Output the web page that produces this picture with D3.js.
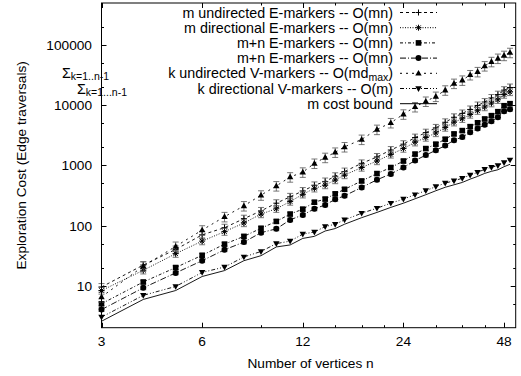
<!DOCTYPE html>
<html>
<head>
<meta charset="utf-8">
<script src="https://cdn.jsdelivr.net/npm/d3@7/dist/d3.min.js"></script>
<style>
  body { margin: 0; background: #fff; }
  text { font-family: "Liberation Sans", Arial, Helvetica, sans-serif; fill: #000; }
</style>
</head>
<body>
<svg id="chart" width="521" height="376"></svg>
<script>
// Number of vertices of the explored graphs
const nVertices = [3, 4, 5, 6, 7, 8, 9, 10, 11, 12, 13, 14, 15, 16,
  18, 20, 22, 24, 26, 28, 30, 32, 34, 36, 38, 40, 42, 44, 46, 48, 50];

// Mean exploration cost (edge traversals) for each strategy
const undirectedE = [9.5, 22, 40, 70, 92, 130, 175, 235, 300, 375, 465, 540, 660, 790,
  1080, 1380, 1800, 2250, 2900, 3500, 4200, 5200, 6300, 7300, 8500, 9900, 11300, 13200, 15000, 17800, 19700];
const directionalE = [8.3, 18, 34, 55, 79, 110, 155, 190, 250, 330, 415, 470, 570, 690,
  920, 1180, 1520, 1900, 2420, 2900, 3450, 4250, 5200, 5950, 7000, 8100, 9300, 10800, 12300, 15000, 16600];
const mnE1 = [5, 11.5, 20, 32, 49, 66, 90, 117, 155, 187, 244, 275, 336, 400,
  550, 730, 920, 1180, 1540, 1900, 2250, 2720, 3330, 3780, 4400, 5100, 5900, 6700, 7800, 9800, 10600];
const mnE2 = [4, 9.2, 16.3, 26, 39.5, 53, 76, 88, 124, 150, 189, 220, 272, 312,
  430, 575, 720, 925, 1200, 1480, 1780, 2130, 2620, 2950, 3550, 4100, 4750, 5400, 6300, 7900, 8600];
const undirectedV = [6.5, 21, 45, 84, 140, 212, 320, 455, 640, 770, 1080, 1350, 1650, 2030,
  2700, 3950, 5100, 7100, 9400, 11600, 14000, 17800, 23000, 26000, 32000, 36000, 45000, 53000, 60000, 67000, 75000];
const directionalV = [3.0, 6.9, 9.7, 16.6, 20.4, 30, 37, 50, 55, 72, 78, 96, 105, 124,
  160, 194, 235, 275, 325, 380, 443, 506, 555, 610, 690, 765, 860, 930, 990, 1110, 1230];
const edgeCount = [2.56, 5.9, 8.3, 14.2, 17.8, 26, 31.5, 44, 47.5, 61, 66, 81, 89, 105,
  135, 165, 200, 235, 278, 325, 378, 432, 475, 520, 590, 655, 735, 795, 845, 950, 1040];

// Relative half-width of the error bars of each strategy
const errUndirectedE = 0.14, errDirectionalE = 0.13, errMnE1 = 0.07, errMnE2 = 0.07, errUndirectedV = 0.18;

// Axis ticks
const xTickValues = [3, 6, 12, 24, 48];
const xMinorTicks = [9, 15, 18, 21, 30, 36, 42];
const yTickValues = [10, 100, 1000, 10000, 100000];

const plot = { left: 101.5, right: 515.7, top: 3, bottom: 327.7 };

const svg = d3.select("#chart");
const x = d3.scaleLog().base(2).domain([3, 52]).range([plot.left, plot.right]);
const y = d3.scaleLog().domain([2, 500000]).range([plot.bottom, plot.top]);

// Legend titles: an optional summation prefix (Σ with subscript) followed by the right-aligned text
const series = [
  { values: undirectedE, err: errUndirectedE, dash: "3,3", marker: "plus",
    label: [{ t: "m undirected E-markers -- O(mn)" }] },
  { values: directionalE, err: errDirectionalE, dash: "1,1.5", marker: "star",
    label: [{ t: "m directional E-markers -- O(mn)" }] },
  { values: mnE1, err: errMnE1, dash: "3,2,1,2", marker: "square",
    label: [{ t: "m+n E-markers -- O(mn)" }] },
  { values: mnE2, err: errMnE2, dash: "6,2,1,2", marker: "circle",
    label: [{ t: "m+n E-markers -- O(mn)" }] },
  { values: undirectedV, err: errUndirectedV, dash: "2,4", marker: "triangle",
    prefix: { sub: "k=1..n-1", x: 62 },
    label: [{ t: "k undirected V-markers -- O(md" }, { t: "max", sub: true }, { t: ")" }] },
  { values: directionalV, err: 0, dash: "4,2,1,2,1,2", marker: "itriangle",
    prefix: { sub: "k=1...n-1", x: 77 },
    label: [{ t: "k directional V-markers -- O(m)" }] },
  { values: edgeCount, err: 0, dash: null, marker: null,
    label: [{ t: "m cost bound" }] }
];

// Axis frame ticks, inward on all four sides
const tickG = svg.append("g").attr("stroke", "#000").attr("stroke-width", 1);
const majorLen = 5, minorLen = 2.5;
function xTick(v, len) {
  const px = Math.round(x(v)) + 0.5;
  tickG.append("line").attr("x1", px).attr("x2", px).attr("y1", plot.bottom).attr("y2", plot.bottom - len);
  tickG.append("line").attr("x1", px).attr("x2", px).attr("y1", plot.top).attr("y2", plot.top + len);
}
function yTick(v, len) {
  const py = Math.round(y(v)) + 0.5;
  tickG.append("line").attr("x1", plot.left).attr("x2", plot.left + len).attr("y1", py).attr("y2", py);
  tickG.append("line").attr("x1", plot.right).attr("x2", plot.right - len).attr("y1", py).attr("y2", py);
}
xTickValues.forEach(v => xTick(v, majorLen));
xMinorTicks.forEach(v => xTick(v, minorLen));
yTickValues.forEach(v => yTick(v, majorLen));
const yMinor = [];
for (let d = 1; d <= 100000; d *= 10) [2, 5].forEach(m => { const v = m * d; if (v > 2 && v < 500000) yMinor.push(v); });
yMinor.forEach(v => yTick(v, minorLen));

// Tick labels
svg.append("g").selectAll("text").data(xTickValues).join("text")
  .attr("x", d => x(d)).attr("y", 346).attr("text-anchor", "middle")
  .attr("font-size", "13.7px").text(d => d);
svg.append("g").selectAll("text").data(yTickValues).join("text")
  .attr("x", 92).attr("y", d => y(d) + 5).attr("text-anchor", "end")
  .attr("font-size", "13.7px").text(d => d);

// Axis titles
svg.append("text").attr("x", (plot.left + plot.right) / 2 + 2).attr("y", 368)
  .attr("text-anchor", "middle").attr("font-size", "13.7px").text("Number of vertices n");
svg.append("text").attr("transform", `translate(26,${(plot.top + plot.bottom) / 2}) rotate(-90)`)
  .attr("text-anchor", "middle").attr("font-size", "13.7px").text("Exploration Cost (Edge traversals)");

// Point markers
function drawMarker(g, type, cx, cy) {
  const s = 3;
  if (type === "plus") {
    g.append("path").attr("d", `M${cx - s},${cy}H${cx + s}M${cx},${cy - s}V${cy + s}`)
      .attr("stroke", "#000").attr("stroke-width", 1).attr("fill", "none");
  } else if (type === "star") {
    const k = s * 0.75;
    g.append("path").attr("d", `M${cx - s},${cy}H${cx + s}M${cx},${cy - s}V${cy + s}M${cx - k},${cy - k}L${cx + k},${cy + k}M${cx - k},${cy + k}L${cx + k},${cy - k}`)
      .attr("stroke", "#000").attr("stroke-width", 1).attr("fill", "none");
  } else if (type === "square") {
    g.append("rect").attr("x", cx - 2.8).attr("y", cy - 2.8).attr("width", 5.6).attr("height", 5.6).attr("fill", "#000");
  } else if (type === "circle") {
    g.append("circle").attr("cx", cx).attr("cy", cy).attr("r", 3).attr("fill", "#000");
  } else if (type === "triangle") {
    g.append("path").attr("d", `M${cx},${cy - 3.4}L${cx + 3.2},${cy + 2.3}L${cx - 3.2},${cy + 2.3}Z`).attr("fill", "#000");
  } else if (type === "itriangle") {
    g.append("path").attr("d", `M${cx},${cy + 3.4}L${cx + 3.2},${cy - 2.3}L${cx - 3.2},${cy - 2.3}Z`).attr("fill", "#000");
  }
}

// Series: error bars, dashed lines, markers
const line = d3.line().x(d => x(d[0])).y(d => y(d[1]));
series.forEach(s => {
  const g = svg.append("g");
  const pts = nVertices.map((n, i) => [n, s.values[i]]);
  if (s.err > 0) {
    const eg = g.append("g").attr("stroke", "#555").attr("stroke-width", 0.8);
    pts.forEach(([n, v]) => {
      const px = x(n), lo = y(v * (1 - s.err)), hi = y(v * (1 + s.err));
      eg.append("line").attr("x1", px).attr("x2", px).attr("y1", lo).attr("y2", hi);
      eg.append("line").attr("x1", px - 3).attr("x2", px + 3).attr("y1", lo).attr("y2", lo);
      eg.append("line").attr("x1", px - 3).attr("x2", px + 3).attr("y1", hi).attr("y2", hi);
    });
  }
  g.append("path").attr("d", line(pts)).attr("fill", "none").attr("stroke", "#000")
    .attr("stroke-width", 0.9).attr("stroke-dasharray", s.dash);
  if (s.marker) pts.forEach(([n, v]) => drawMarker(g, s.marker, x(n), y(v)));
});

// Frame
svg.append("rect").attr("x", plot.left).attr("y", plot.top)
  .attr("width", plot.right - plot.left).attr("height", plot.bottom - plot.top)
  .attr("fill", "none").attr("stroke", "#000").attr("stroke-width", 1);

// Legend
const legend = svg.append("g");
series.forEach((s, i) => {
  const cy = 12.5 + i * 15.2;
  const t = legend.append("text").attr("x", 393).attr("y", cy + 5).attr("text-anchor", "end").attr("font-size", "14.3px");
  s.label.forEach(part => {
    const ts = t.append("tspan").text(part.t);
    if (part.sub) ts.attr("font-size", "10.5px").attr("baseline-shift", "-3px");
  });
  if (s.prefix) {
    const p = legend.append("text").attr("x", s.prefix.x).attr("y", cy + 5).attr("font-size", "14.3px");
    p.append("tspan").text("\u03A3");
    p.append("tspan").attr("font-size", "10.5px").attr("dy", 2).text(s.prefix.sub);
  }
  legend.append("line").attr("x1", 400).attr("x2", 437).attr("y1", cy).attr("y2", cy)
    .attr("stroke", "#000").attr("stroke-width", 1).attr("stroke-dasharray", s.dash);
  if (s.marker) drawMarker(legend, s.marker, 418.5, cy);
});
</script>
</body>
</html>
